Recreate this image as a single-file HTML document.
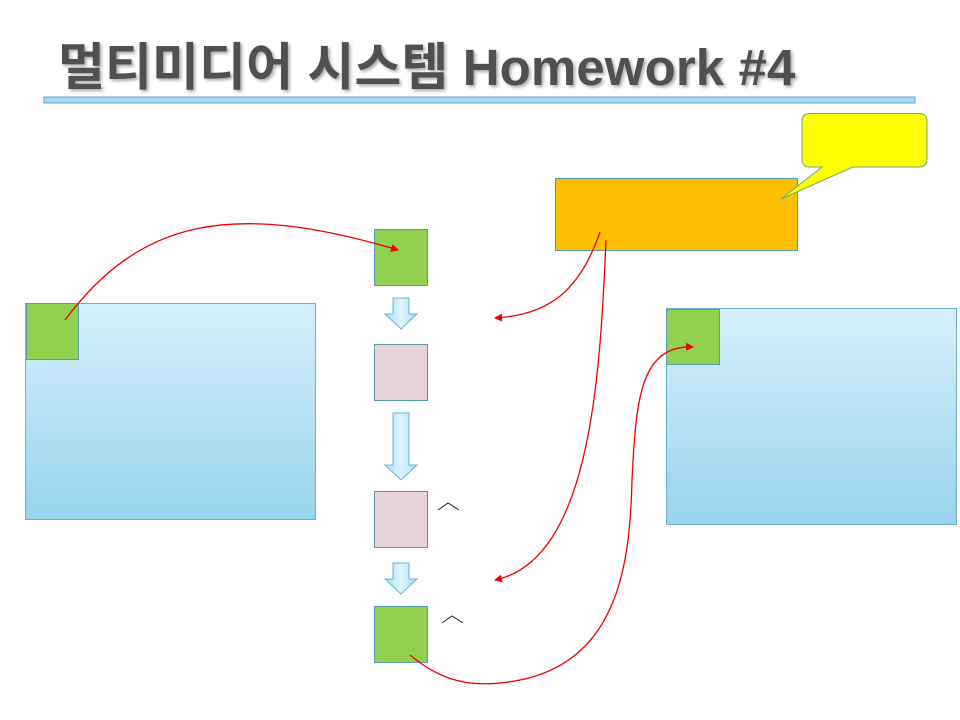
<!DOCTYPE html>
<html><head><meta charset="utf-8"><style>
body{margin:0;width:960px;height:720px;background:#fff;overflow:hidden;position:relative;font-family:"Liberation Sans","Noto Sans CJK KR",sans-serif}
.t{position:absolute;left:58px;top:26px;font-size:51px;font-weight:bold;color:#505050;text-shadow:2px 2px 3px #aaa;letter-spacing:0.1px;white-space:nowrap}
</style></head><body>
<div class="t">멀티미디어 시스템 Homework #4</div>
<svg width="960" height="720" style="position:absolute;left:0;top:0">
<defs>
<linearGradient id="g" x1="0" y1="0" x2="0" y2="1"><stop offset="0" stop-color="#d6f0fc"/><stop offset="1" stop-color="#98d3ed"/></linearGradient>
<linearGradient id="a" x1="0" y1="0" x2="1" y2="0"><stop offset="0" stop-color="#a8dcf2"/><stop offset="0.5" stop-color="#dff4fd"/><stop offset="1" stop-color="#a8dcf2"/></linearGradient>
<marker id="m" markerWidth="8" markerHeight="8" refX="7" refY="4" orient="auto" markerUnits="userSpaceOnUse"><path d="M0,0 L8,4 L0,8 z" fill="#e00"/></marker>
</defs>
<rect x="44" y="97" width="871" height="6" fill="#a9dcef" stroke="#5fa8c8" stroke-width="1"/>
<rect x="25.5" y="303.5" width="290" height="216" fill="url(#g)" stroke="#6fb0d0"/>
<rect x="666.5" y="308.5" width="290" height="216" fill="url(#g)" stroke="#6fb0d0"/>
<rect x="26.5" y="303.5" width="52" height="56" fill="#92d050" stroke="#5a9bb0"/>
<rect x="666.5" y="309.5" width="53" height="55" fill="#92d050" stroke="#5a9bb0"/>
<rect x="374.5" y="229.5" width="53" height="56" fill="#92d050" stroke="#5a9bb0"/>
<rect x="374.5" y="344.5" width="53" height="56" fill="#e6d4d9" stroke="#5a9bb0"/>
<rect x="374.5" y="491.5" width="53" height="56" fill="#e6d4d9" stroke="#5a9bb0"/>
<rect x="374.5" y="606.5" width="53" height="56" fill="#92d050" stroke="#5a9bb0"/>
<path d="M393,298 H409 V314 H417 L401,329 L385,314 H393 Z" fill="url(#a)" stroke="#6ab4d6"/>
<path d="M393,413 H409 V465 H417 L401,480 L385,465 H393 Z" fill="url(#a)" stroke="#6ab4d6"/>
<path d="M393,563 H409 V579 H417 L401,594 L385,579 H393 Z" fill="url(#a)" stroke="#6ab4d6"/>
<path d="M438,510 L448,503 L459,510" fill="none" stroke="#222" stroke-width="1"/>
<path d="M442,623 L452,616 L463,623" fill="none" stroke="#222" stroke-width="1"/>
<rect x="555.5" y="178.5" width="242" height="72" fill="#ffc000" stroke="#5a9bb0"/>
<path d="M810,113.5 H919 Q927,113.5 927,121 V159 Q927,167 919,167 H853 L781,199 L822,167 H810 Q802,167 802,159 V121 Q802,113.5 810,113.5 Z" fill="#ffff00" stroke="#6aa88a"/>
<g fill="none" stroke="#e00" stroke-width="1.3">
<path d="M65,320 C140,220 230,200 398,250" marker-end="url(#m)"/>
<path d="M600,232 C580,290 550,315 495,318" marker-end="url(#m)"/>
<path d="M606,240 C600,380 590,560 495,580" marker-end="url(#m)"/>
<path d="M410,655 C440,680 470,690 520,680 C620,660 630,560 632,480 C636,400 640,345 693,347" marker-end="url(#m)"/>
</g>
</svg>
</body></html>
